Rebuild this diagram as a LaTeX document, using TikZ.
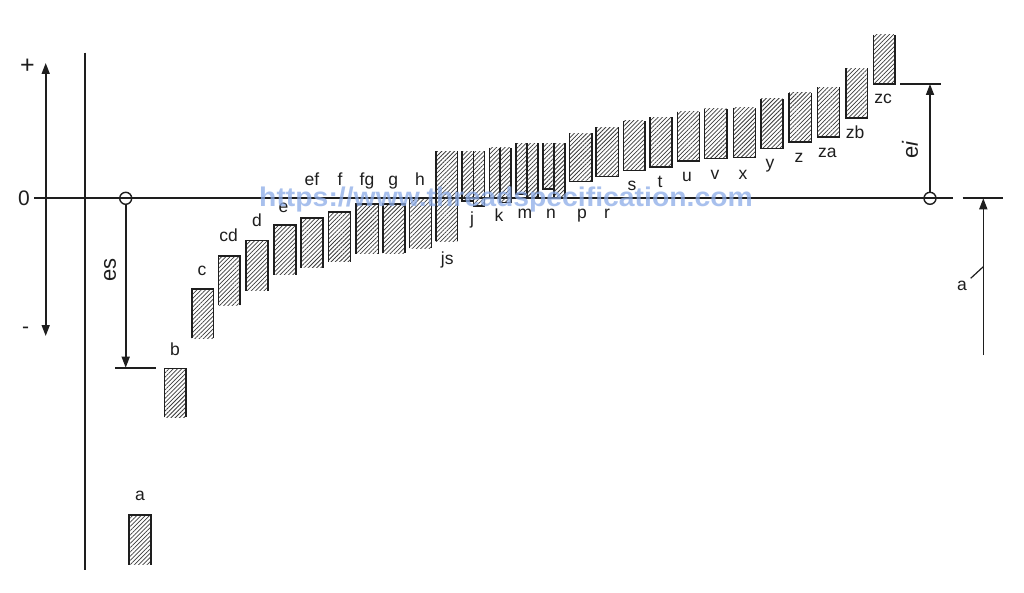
\documentclass[tikz,border=0pt]{standalone}
\usepackage{fontspec}
\setmainfont{Liberation Sans}
\usetikzlibrary{arrows.meta,patterns.meta}
\definecolor{ink}{RGB}{30,30,30}
\definecolor{hatchc}{RGB}{60,60,60}
\definecolor{wmc}{RGB}{140,172,232}
\newcommand\tolTop[4]{%
  \fill[hat] (#1,#3) rectangle (#2,#4);
  \draw[ln] (#1,#4) -- (#1,#3) -- (#2,#3) -- (#2,#4);}
\newcommand\tolBot[4]{%
  \fill[hat] (#1,#3) rectangle (#2,#4);
  \draw[ln] (#1,#3) -- (#1,#4) -- (#2,#4) -- (#2,#3);}
\begin{document}
\begin{tikzpicture}[x=1pt,y=-1pt,
  ln/.style={draw=ink,line width=1.6pt,line join=miter},
  hat/.style={pattern={Lines[angle=45,distance=3pt,line width=0.75pt]},pattern color=hatchc},
  lbl/.style={font=\fontsize{17.5}{17.5}\selectfont,text=ink,anchor=base,inner sep=0pt},
  big/.style={font=\fontsize{21}{21}\selectfont,text=ink,inner sep=0pt},
  dev/.style={font=\fontsize{22}{22}\selectfont,text=ink,inner sep=0pt,rotate=90},
  tip/.style={-{Triangle[length=11pt,width=8pt]}},
  ring/.style={circle,draw=ink,line width=1.4pt,minimum size=12pt,inner sep=0pt}
]
\useasboundingbox (0,0) rectangle (1024,593);
\fill[white] (0,0) rectangle (1024,593);

% axes
\coordinate (zl) at (34,198.3);
\coordinate (zr) at (953,198.3);
\draw[ln] (zl) -- (zr);
\coordinate (vt) at (85,52.7);
\coordinate (vb) at (85,570);
\draw[ln] (vt) -- (vb);
\coordinate (up) at (45.7,63);
\coordinate (dn) at (45.7,336);
\draw[ln,{Triangle[length=11pt,width=8pt]}-{Triangle[length=11pt,width=8pt]}] (up) -- (dn);
\node[big,font=\fontsize{25}{25}\selectfont] (plus) at (27.3,66.7) {+};
\node[big] (zero) at (24,198.3) {0};
\node[big] (minus) at (25.7,330.7) {-};

% bars with closed top (a -- h)
\tolTop{129}{150.7}{515}{564.5}
\tolTop{164.3}{186}{368.3}{417.3}
\tolTop{191.7}{213.3}{289.3}{338.3}
\tolTop{218.3}{240}{256}{305}
\tolTop{246}{267.7}{240.7}{290.7}
\tolTop{274}{295.7}{225.3}{275}
\tolTop{300.7}{322.7}{218.3}{267.7}
\tolTop{328.3}{350.3}{212}{261.7}
\tolTop{356}{378.3}{204}{254}
\tolTop{382.7}{405}{204}{253.3}
\tolTop{409.3}{431.3}{198.6}{248.3}
% js
\fill[hat] (435.7,151.3) rectangle (457.3,241.3);
\draw[ln] (435.7,151.3) -- (435.7,241.3);
\draw[ln] (457.3,151.3) -- (457.3,241.3);
% bars with closed bottom (j -- zc)
\tolBot{461.7}{473.3}{151.3}{201.3}
\tolBot{473.3}{484.3}{151.3}{206.3}
\tolBot{489.3}{500}{147.7}{198.3}
\tolBot{500}{511}{147.7}{202.7}
\tolBot{516}{526.7}{143.3}{194.3}
\tolBot{526.7}{537.7}{143.3}{198.3}
\tolBot{542.7}{554}{143.3}{189}
\tolBot{554}{565}{143.3}{198.3}
\tolBot{569.3}{591.7}{133.3}{181.7}
\tolBot{596}{618.3}{127.3}{176.5}
\tolBot{623.3}{645}{121}{170.7}
\tolBot{650}{671.7}{117.3}{167.3}
\tolBot{677.3}{699.3}{111.7}{161}
\tolBot{704.3}{726.7}{108.7}{158.7}
\tolBot{733.3}{755.3}{107.7}{157.7}
\tolBot{760.7}{782.7}{99}{148.7}
\tolBot{789}{811.3}{92.7}{142.3}
\tolBot{817.3}{839.3}{87.3}{137.3}
\tolBot{845.7}{867.3}{68.3}{118}
\tolBot{873.3}{895}{35}{84}

% labels
\node[lbl] (la) at (140,500.8) {a};
\node[lbl] (lb) at (175,355.7) {b};
\node[lbl] (lc) at (202,275.8) {c};
\node[lbl] (lcd) at (228.5,241.7) {cd};
\node[lbl] (ld) at (257,227) {d};
\node[lbl] (le) at (283.5,212.7) {e};
\node[lbl] (lef) at (312,185.3) {ef};
\node[lbl] (lf) at (340,185.3) {f};
\node[lbl] (lfg) at (367,185.3) {fg};
\node[lbl] (lg) at (393.3,185.3) {g};
\node[lbl] (lh) at (420,185.3) {h};
\node[lbl] (ljs) at (447.3,265) {js};
\node[lbl] (lj) at (472,225) {j};
\node[lbl] (lk) at (499,222) {k};
\node[lbl] (lm) at (525,218.3) {m};
\node[lbl] (ln) at (551,218.3) {n};
\node[lbl] (lp) at (582,218.3) {p};
\node[lbl] (lr) at (607,218.3) {r};
\node[lbl] (ls) at (632,191) {s};
\node[lbl] (lt) at (660,187.7) {t};
\node[lbl] (lu) at (687,181.7) {u};
\node[lbl] (lv) at (715,179.3) {v};
\node[lbl] (lx) at (743,179.3) {x};
\node[lbl] (ly) at (770,168.3) {y};
\node[lbl] (lz) at (799,162.7) {z};
\node[lbl] (lza) at (827.3,157.7) {za};
\node[lbl] (lzb) at (855,139) {zb};
\node[lbl] (lzc) at (883,104) {zc};

% es
\node[ring] (oes) at (125.7,198.3) {};
\coordinate (es) at (125.7,367.7);
\coordinate (esl) at (115,367.7);
\coordinate (esr) at (155.7,367.7);
\draw[ln] (esl) -- (esr);
\draw[ln,tip] (oes.south) -- (es);
\node[dev] (tes) at (110,270) {es};

% ei
\node[ring] (oei) at (930,198.3) {};
\coordinate (ei) at (930,84);
\coordinate (eil) at (900,84);
\coordinate (eir) at (940.7,84);
\draw[ln] (eil) -- (eir);
\draw[ln,tip] (oei.north) -- (ei);
\node[dev] (tei) at (910,150) {e\textit{i}};

% right a
\coordinate (ral) at (962.7,198.3);
\coordinate (rar) at (1002.7,198.3);
\draw[ln] (ral) -- (rar);
\coordinate (ra0) at (983.3,355);
\coordinate (ra1) at (983.3,198.3);
\draw[ln,tip] (ra0) -- (ra1);
\coordinate (ldr0) at (970.7,278.3);
\coordinate (ldr1) at (983.3,266.7);
\draw[ln,line width=1.2pt] (ldr0) -- (ldr1);
\node[lbl] (lra) at (962,290.7) {a};

% watermark
\node[font=\fontsize{27}{27}\selectfont\bfseries,text=wmc,opacity=0.75,xscale=1.05,anchor=base,inner sep=0pt] (wm) at (506,206.5) {https://www.threadspecification.com};
\end{tikzpicture}
\end{document}
